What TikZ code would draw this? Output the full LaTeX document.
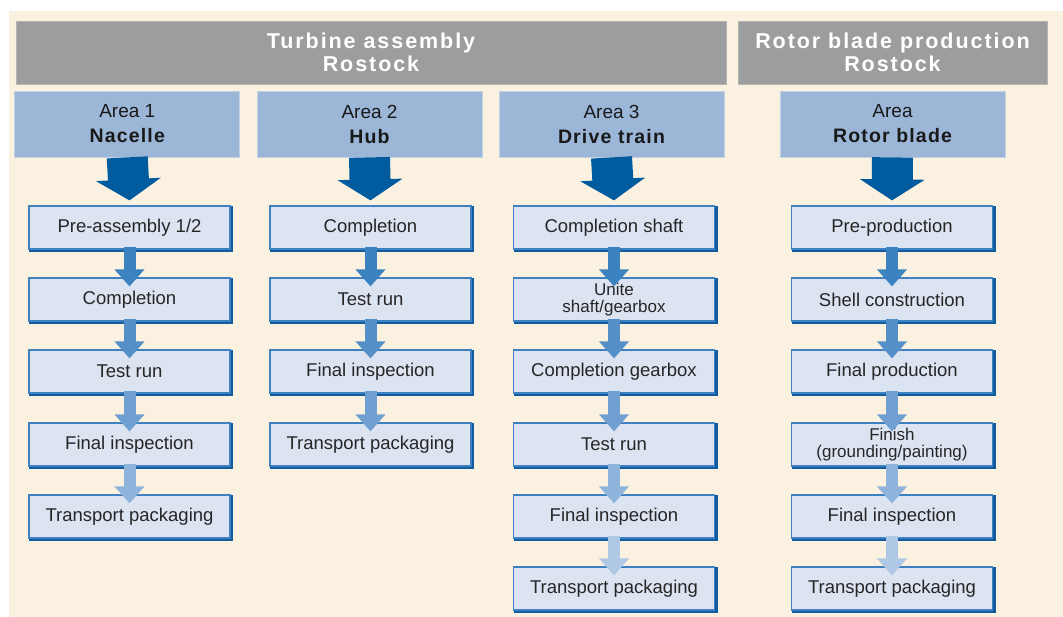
\documentclass[tikz,border=0pt]{standalone}
\usepackage{fontspec}
\setmainfont{Liberation Sans}
\newfontfamily\titlefont{Liberation Sans}[LetterSpace=9]
\newfontfamily\areafont{Liberation Sans}[LetterSpace=6]
\usetikzlibrary{arrows.meta,calc}
\definecolor{cream}{HTML}{FBF1E0}
\definecolor{hdrgray}{HTML}{9C9D9F}
\definecolor{hdredge}{HTML}{B4B4B2}
\definecolor{areablue}{HTML}{9CB6D8}
\definecolor{areaedge}{HTML}{C3D1E4}
\definecolor{darkarrow}{HTML}{005C9E}
\definecolor{stepfill}{HTML}{DCE3F1}
\definecolor{stepline}{HTML}{3F80C0}
\definecolor{stepshadow}{HTML}{0F5C9E}
\definecolor{rowa}{HTML}{3B82C0}
\definecolor{rowb}{HTML}{548FC8}
\definecolor{rowc}{HTML}{70A0D2}
\definecolor{rowd}{HTML}{8FB4DC}
\definecolor{rowe}{HTML}{AFC8E6}
\tikzset{
  hdrbox/.style={fill=hdrgray, draw=hdredge, line width=0.8pt, minimum height=63pt, inner sep=0pt,
    text=white, align=center, font=\titlefont\bfseries\fontsize{21.5}{23}\selectfont},
  areabox/.style={fill=areablue, draw=areaedge, line width=0.8pt, minimum width=225pt, minimum height=66pt,
    inner sep=0pt, align=center, text=black!90, font=\fontsize{19}{25}\selectfont},
  stepbox/.style={fill=stepfill, draw=stepline, line width=1.2pt, minimum width=201pt, minimum height=43pt,
    inner sep=0pt, align=center, text=black!85, font=\fontsize{18.5}{16}\selectfont},
  steptwo/.style={stepbox, font=\fontsize{17}{17.5}\selectfont},
  shadowline/.style={draw=stepshadow, line width=2.6pt},
  bigarrow/.style={draw=darkarrow, line width=41pt, -{Triangle[width=64pt,length=21pt]}},
  smallarrow/.style={line width=12pt, -{Triangle[width=29pt,length=17pt]}},
}
\newcommand{\areatext}[2]{#1\\{\areafont\bfseries\fontsize{19.5}{25}\selectfont #2}}
\begin{document}
\begin{tikzpicture}[x=1pt,y=-1pt]
\useasboundingbox (0,0) rectangle (1063,617);
\fill[white] (0,0) rectangle (1063,617);
\fill[cream] (9,11) rectangle (1063,617);

% headers
\node[hdrbox, minimum width=710pt] (h1) at (371,52.5) {Turbine assembly\\Rostock};
\node[hdrbox, minimum width=309pt] (h2) at (892.5,52.5) {Rotor blade production\\Rostock};

% areas
\node[areabox] (a1) at (127.25,124) {\areatext{Area 1}{Nacelle}};
\node[areabox] (a2) at (369.5,124) {\areatext{Area 2}{Hub}};
\node[areabox] (a3) at (611.5,124) {\areatext{Area 3}{Drive train}};
\node[areabox] (a4) at (892.5,124) {\areatext{Area}{Rotor blade}};

% steps column 1
\node[stepbox] (s11) at (129.5,227.5) {Pre-assembly 1/2};
\node[stepbox] (s12) at (129.5,299.5) {Completion};
\node[stepbox] (s13) at (129.5,371.5) {Test run};
\node[stepbox] (s14) at (129.5,444.5) {Final inspection};
\node[stepbox] (s15) at (129.5,516.5) {Transport packaging};
% column 2
\node[stepbox] (s21) at (370.5,227.5) {Completion};
\node[stepbox] (s22) at (370.5,299.5) {Test run};
\node[stepbox] (s23) at (370.5,371.5) {Final inspection};
\node[stepbox] (s24) at (370.5,444.5) {Transport packaging};
% column 3
\node[stepbox] (s31) at (614,227.5) {Completion shaft};
\node[steptwo] (s32) at (614,299.5) {Unite\\shaft/gearbox};
\node[stepbox] (s33) at (614,371.5) {Completion gearbox};
\node[stepbox] (s34) at (614,444.5) {Test run};
\node[stepbox] (s35) at (614,516.5) {Final inspection};
\node[stepbox] (s36) at (614,588.5) {Transport packaging};
% column 4
\node[stepbox] (s41) at (892,227.5) {Pre-production};
\node[stepbox] (s42) at (892,299.5) {Shell construction};
\node[stepbox] (s43) at (892,371.5) {Final production};
\node[steptwo] (s44) at (892,444.5) {Finish\\(grounding/painting)};
\node[stepbox] (s45) at (892,516.5) {Final inspection};
\node[stepbox] (s46) at (892,588.5) {Transport packaging};

% darker right/bottom edges
\foreach \n in {s11,s12,s13,s14,s15,s21,s22,s23,s24,s31,s32,s33,s34,s35,s36,s41,s42,s43,s44,s45,s46}{
  \draw[shadowline] ($(\n.north east)+(1.3,1)$) -- ($(\n.south east)+(1.3,1.3)$) -- ($(\n.south west)+(1,1.3)$);
}

% big arrows
\foreach \c in {1,2,3,4}{
  \draw[bigarrow] (a\c.south) -- ($(s\c1.north)+(0,-5)$);
}

% small arrows, colour by row
\foreach \c/\last in {1/5,2/4,3/6,4/6}{
  \foreach \r [evaluate=\r as \nx using int(\r+1)] in {1,...,5}{
    \ifnum\r<\last
      \ifcase\r\or\def\rc{rowa}\or\def\rc{rowb}\or\def\rc{rowc}\or\def\rc{rowd}\or\def\rc{rowe}\fi
      \draw[smallarrow, draw=\rc] ($(s\c\r.south)+(0,-3)$) -- ($(s\c\nx.north)+(0,9)$);
    \fi
  }
}
\end{tikzpicture}
\end{document}
